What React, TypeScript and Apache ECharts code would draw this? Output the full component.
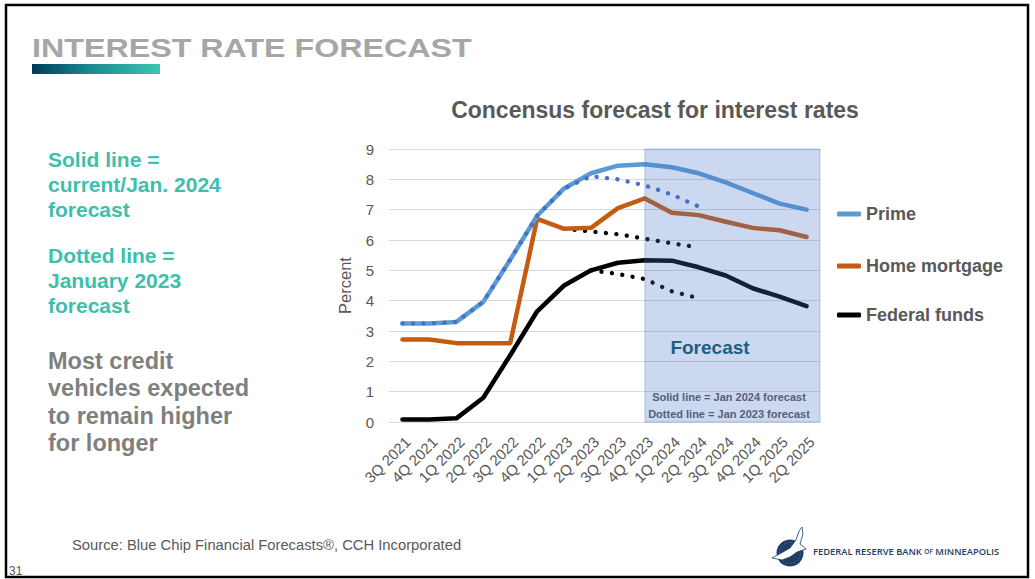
import React, { useEffect, useRef } from "react";
import * as echarts from "echarts";

const FONT = '"Liberation Sans", Arial, Helvetica, sans-serif';

const quarters = [
  "3Q 2021", "4Q 2021", "1Q 2022", "2Q 2022", "3Q 2022", "4Q 2022",
  "1Q 2023", "2Q 2023", "3Q 2023", "4Q 2023", "1Q 2024", "2Q 2024",
  "3Q 2024", "4Q 2024", "1Q 2025", "2Q 2025",
];
const yTicks = [0, 1, 2, 3, 4, 5, 6, 7, 8, 9];

// Jan. 2024 (solid) forecasts
const primeJan2024 = [3.25, 3.25, 3.3, 3.96, 5.35, 6.8, 7.7, 8.2, 8.45, 8.5, 8.4, 8.2, 7.9, 7.55, 7.2, 7.0];
const mortgageJan2024 = [2.72, 2.72, 2.6, 2.6, 2.6, 6.7, 6.37, 6.4, 7.05, 7.37, 6.9, 6.82, 6.6, 6.4, 6.32, 6.1];
const fedJan2024 = [0.08, 0.08, 0.12, 0.8, 2.2, 3.65, 4.5, 5.0, 5.25, 5.33, 5.32, 5.1, 4.83, 4.41, 4.13, 3.82];

// Jan. 2023 (dotted) forecasts
const primeJan2023 = [3.25, 3.25, 3.3, 3.96, 5.35, 6.8, 7.7, 8.1, 8.0, 7.8, 7.5, 7.1, null, null, null, null];
const mortgageJan2023 = [null, null, null, null, null, null, 6.37, 6.28, 6.19, 6.04, 5.89, 5.76, null, null, null, null];
const fedJan2023 = [null, null, null, null, null, null, null, 5.0, 4.88, 4.71, 4.31, 4.08, null, null, null, null];

const forecastStart = "4Q 2023";

const leftNotesTeal = [
  ["Solid line =", "current/Jan. 2024", "forecast"],
  ["Dotted line =", "January 2023", "forecast"],
];
const leftNoteGrey = ["Most credit", "vehicles expected", "to remain higher", "for longer"];

const GRID = { left: 389, top: 149, right: 215, bottom: 157 };

export default function App() {
  const ref = useRef<HTMLDivElement>(null);

  useEffect(() => {
    const chart = echarts.init(ref.current!, null, { renderer: "svg", width: 1035, height: 579 });

    const txt = (text: string, x: number, y: number, style: any, extra: any = {}) => ({
      type: "text",
      x,
      y,
      z: 50,
      ...extra,
      style: { text, fontFamily: FONT, verticalAlign: "middle", ...style },
    });

    const graphics: any[] = [];
    graphics.push({
      type: "rect",
      z: 0,
      shape: { x: 6, y: 5, width: 1022, height: 572 },
      style: { fill: "none", stroke: "#000", lineWidth: 2.5 },
    });
    graphics.push(
      txt("INTEREST RATE FORECAST", 32, 47.5, { fontSize: 26, fontWeight: "bold", fill: "#a6a6a6" }, { scaleX: 1.24 })
    );
    graphics.push({
      type: "rect",
      shape: { x: 32, y: 64, width: 128, height: 10 },
      style: {
        fill: new echarts.graphic.LinearGradient(0, 0, 1, 0, [
          { offset: 0, color: "#003a5c" },
          { offset: 0.45, color: "#1a8a8e" },
          { offset: 1, color: "#3ec4b2" },
        ]),
      },
    });
    const tealY = [[159.5, 184.5, 209.5], [255.5, 280.5, 305.5]];
    leftNotesTeal.forEach((lines, i) =>
      lines.forEach((l, j) =>
        graphics.push(txt(l, 48, tealY[i][j], { fontSize: 21, fontWeight: "bold", fill: "#3ebfab" }))
      )
    );
    const greyY = [361, 388.4, 415.8, 443.2];
    leftNoteGrey.forEach((l, j) =>
      graphics.push(txt(l, 48, greyY[j], { fontSize: 23.5, fontWeight: "bold", fill: "#7f7f7f" }))
    );
    graphics.push(
      txt("Concensus forecast for interest rates", 655, 109.7, {
        fontSize: 23,
        fontWeight: "bold",
        fill: "#595959",
        align: "center",
      })
    );
    graphics.push(
      txt("Forecast", 710, 347, { fontSize: 19, fontWeight: "bold", fill: "#1f5f82", align: "center" }, { z: 120 })
    );
    graphics.push(
      txt("Solid line = Jan 2024 forecast", 729, 397, { fontSize: 11, fontWeight: "bold", fill: "#556078", align: "center" }, { z: 120 })
    );
    graphics.push(
      txt("Dotted line = Jan 2023 forecast", 729, 413.5, { fontSize: 11, fontWeight: "bold", fill: "#556078", align: "center" }, { z: 120 })
    );
    graphics.push(
      txt("Source: Blue Chip Financial Forecasts®, CCH Incorporated", 72, 545, { fontSize: 15, fill: "#595959" }, { scaleX: 0.985 })
    );
    graphics.push(txt("31", 9, 570.5, { fontSize: 12, fill: "#595959" }));
    // logo
    graphics.push({
      type: "circle",
      z: 50,
      shape: { cx: 790, cy: 553, r: 13.5 },
      style: { fill: "#1d3d66" },
    });
    graphics.push({
      type: "polygon",
      z: 51,
      shape: {
        points: [
          [772, 558], [783, 552], [790, 548], [796, 540], [799, 531], [802, 527], [803, 534],
          [800, 544], [806, 549], [797, 552], [790, 557], [782, 560],
        ],
      },
      style: { fill: "#ffffff", stroke: "#1d3d66", lineWidth: 0.8 },
    });
    graphics.push({
      type: "circle",
      z: 50,
      shape: { cx: 790, cy: 553, r: 10.5 },
      style: { fill: "none", stroke: "#7f95b3", lineWidth: 0.6, lineDash: [1, 1.5] },
    });
    graphics.push({
      type: "text",
      z: 50,
      x: 813,
      y: 551,
      style: {
        text: "{a|FEDERAL RESERVE BANK }{b|OF}{a| MINNEAPOLIS}",
        verticalAlign: "middle",
        fill: "#1d3d66",
        rich: {
          a: { fontFamily: '"Open Sans", sans-serif', fontSize: 9.4, fontWeight: 600, fill: "#1d3d66" },
          b: { fontFamily: '"Open Sans", sans-serif', fontSize: 6.5, fontWeight: 600, fill: "#1d3d66" },
        },
      },
    });

    const solid = (name: string, data: any[], color: string) => ({
      name,
      type: "line",
      data,
      symbol: "none",
      smooth: false,
      lineStyle: { color, width: 4.5, cap: "round", join: "round" },
      itemStyle: { color },
      emphasis: { disabled: true },
    });
    const dotted = (name: string, data: any[], color: string) => ({
      name,
      type: "line",
      data,
      symbol: "none",
      connectNulls: false,
      lineStyle: { color, width: 4.3, type: [0.1, 10.4], cap: "round", join: "round" },
      itemStyle: { color },
      emphasis: { disabled: true },
    });

    const legendCommon = {
      orient: "vertical",
      left: 837,
      itemWidth: 24,
      itemHeight: 5,
      icon: "roundRect",
      padding: 0,
      itemGap: 0,
      selectedMode: false,
      textStyle: { fontFamily: FONT, fontSize: 18, fontWeight: "bold", color: "#595959" },
    };

    chart.setOption({
      animation: false,
      backgroundColor: "#ffffff",
      grid: GRID,
      legend: [
        { ...legendCommon, top: 205, data: ["Prime"] },
        { ...legendCommon, top: 257, data: ["Home mortgage"] },
        { ...legendCommon, top: 306, data: ["Federal funds"] },
      ],
      xAxis: {
        type: "category",
        data: quarters,
        boundaryGap: true,
        axisLine: { show: true, lineStyle: { color: "#d9d9d9", width: 1 } },
        axisTick: { show: false },
        axisLabel: {
          rotate: 45,
          interval: 0,
          margin: 12,
          verticalAlign: "top",
          color: "#595959",
          fontFamily: FONT,
          fontSize: 15,
        },
      },
      yAxis: {
        type: "value",
        min: 0,
        max: 9,
        interval: 1,
        name: "Percent",
        nameLocation: "middle",
        nameRotate: 90,
        nameGap: 36,
        nameTextStyle: { fontFamily: FONT, fontSize: 16.5, color: "#595959" },
        axisLine: { show: false },
        axisTick: { show: false },
        splitLine: { lineStyle: { color: "#d9d9d9", width: 1 } },
        axisLabel: {
          margin: 15,
          color: "#595959",
          fontFamily: FONT,
          fontSize: 15,
          formatter: (v: number) => (yTicks.includes(v) ? String(v) : ""),
        },
      },
      graphic: graphics,
      series: [
        dotted("Home mortgage (Jan. 2023)", mortgageJan2023, "#000000"),
        dotted("Federal funds (Jan. 2023)", fedJan2023, "#000000"),
        solid("Federal funds", fedJan2024, "#000000"),
        solid("Home mortgage", mortgageJan2024, "#c55a11"),
        solid("Prime", primeJan2024, "#5b9bd5"),
        dotted("Prime (Jan. 2023)", primeJan2023, "#4472c4"),
      ],
    });

    const x0 = chart.convertToPixel({ xAxisIndex: 0 }, forecastStart) as number;
    const yTop = chart.convertToPixel({ yAxisIndex: 0 }, 9) as number;
    const yBot = chart.convertToPixel({ yAxisIndex: 0 }, 0) as number;
    const xRight = 1035 - GRID.right;
    chart.setOption({
      graphic: [
        {
          id: "forecastArea",
          type: "rect",
          z: 100,
          shape: { x: x0, y: yTop, width: xRight - x0, height: yBot - yTop },
          style: { fill: "rgba(68,114,196,0.28)", stroke: "rgba(68,114,196,0.35)", lineWidth: 1 },
        },
      ],
    });

    return () => chart.dispose();
  }, []);

  return (
    <div
      ref={ref}
      style={{ position: "fixed", left: 0, top: 0, width: 1035, height: 579, background: "#fff" }}
    />
  );
}
